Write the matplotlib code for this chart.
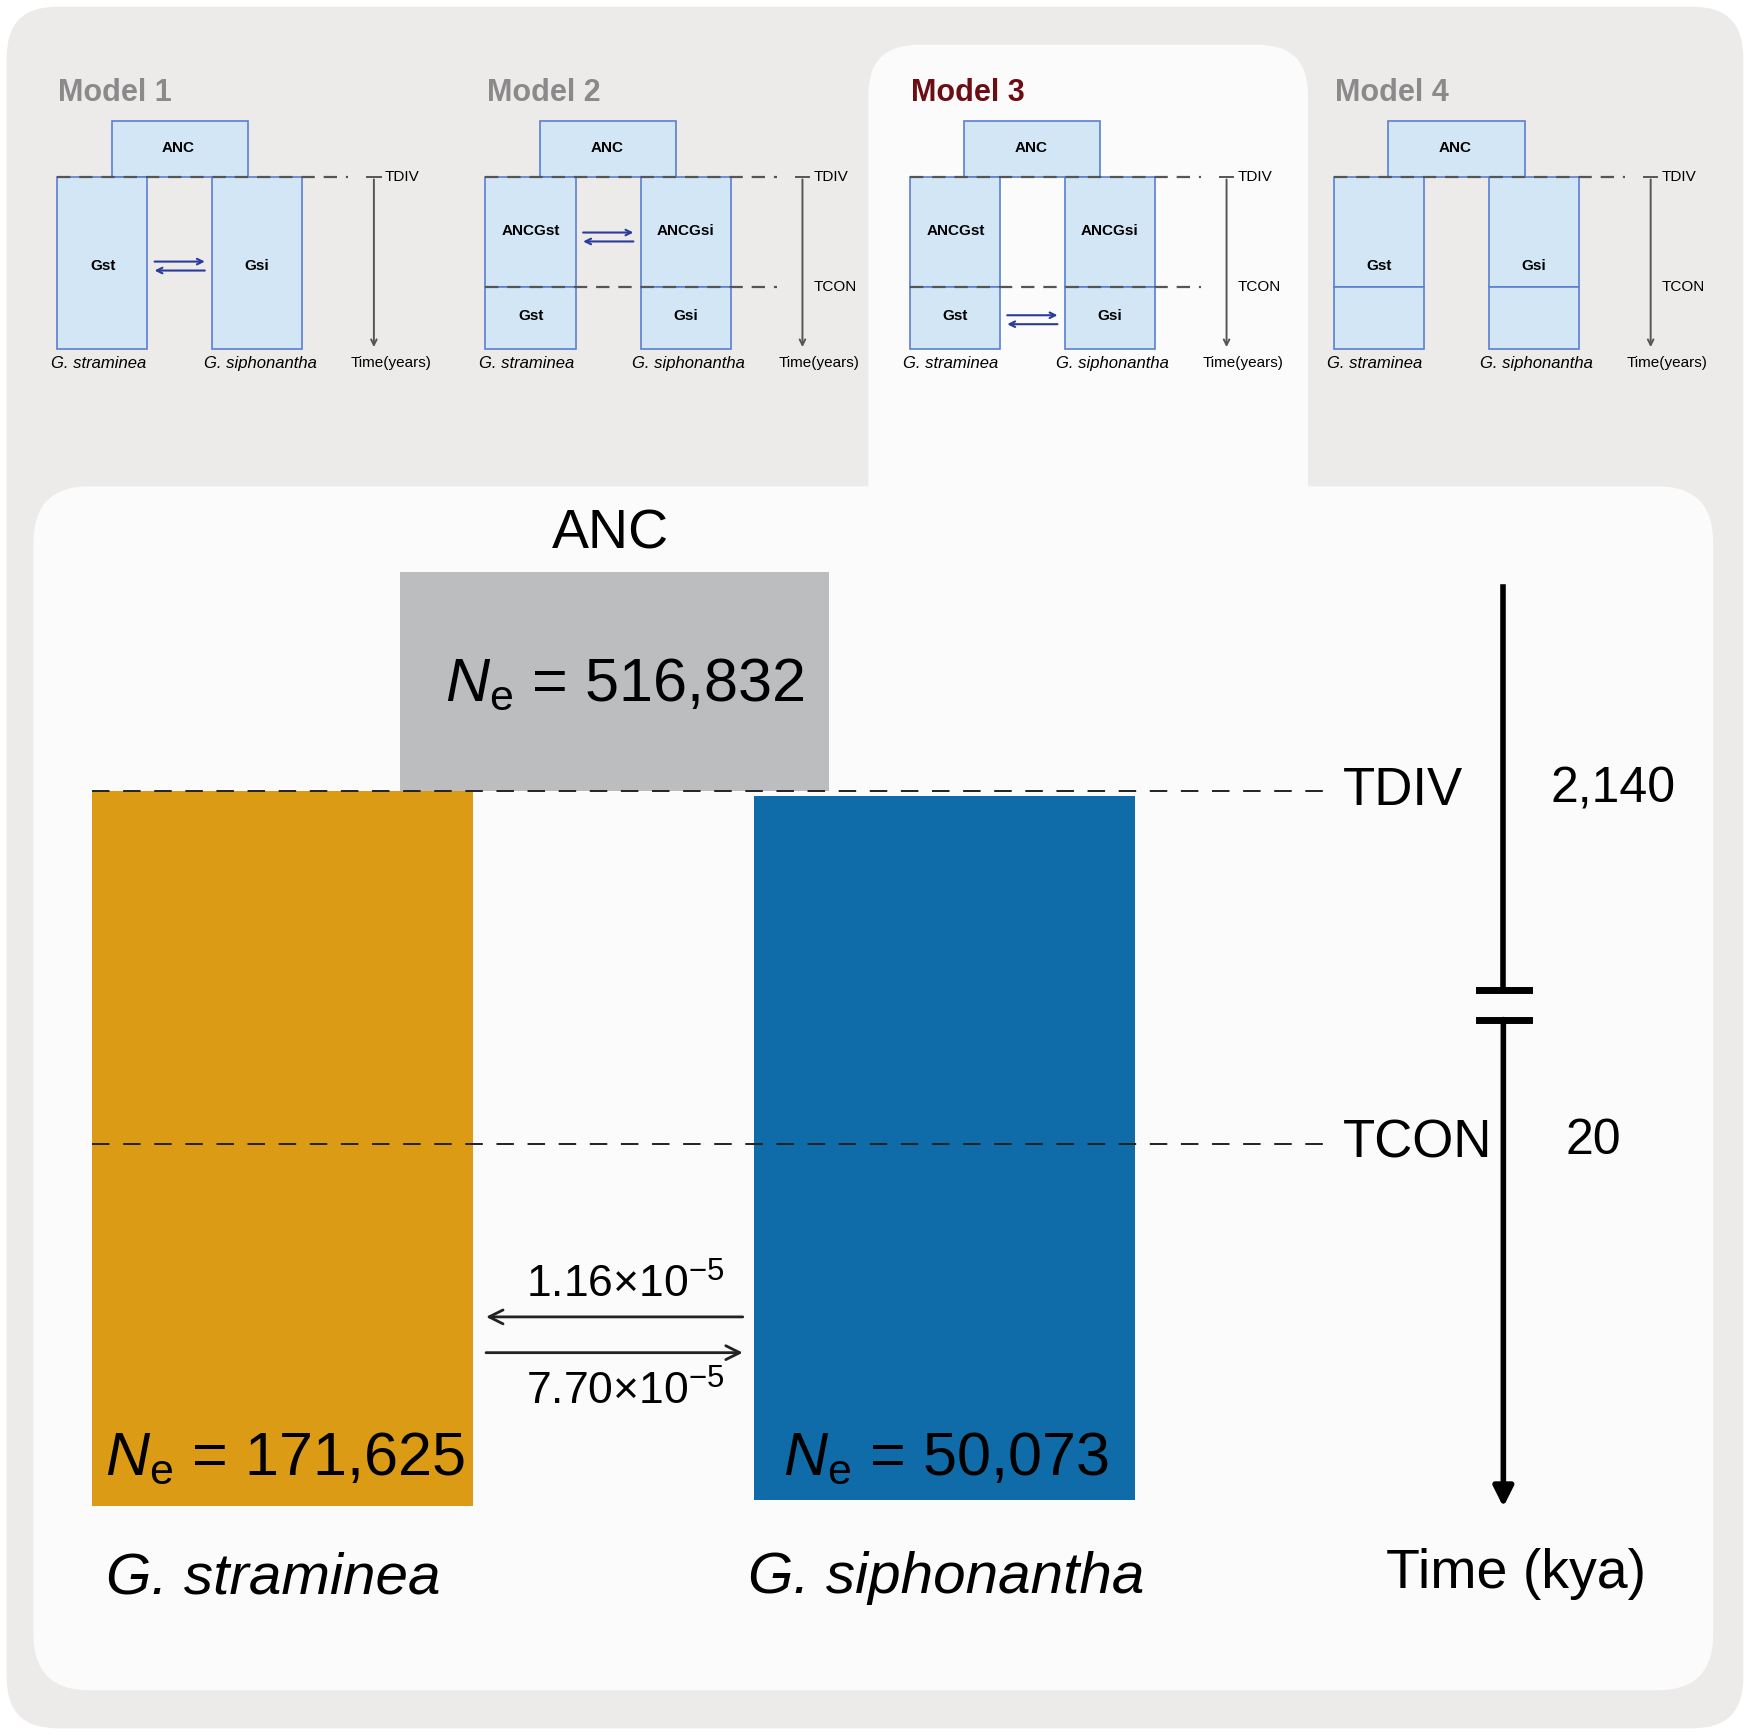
import matplotlib.pyplot as plt
from matplotlib.patches import FancyBboxPatch, Rectangle

plt.rcParams['font.family'] = ['Liberation Sans']
plt.rcParams['mathtext.fontset'] = 'custom'
plt.rcParams['mathtext.rm'] = 'Liberation Sans'
plt.rcParams['mathtext.it'] = 'Liberation Sans:italic'

# Data
model_names = ['Model 1', 'Model 2', 'Model 3', 'Model 4']
model_colors = ['#8a8a8a', '#8a8a8a', '#6b0d12', '#8a8a8a']
model_has_tcon = [False, True, True, True]      # split boxes at TCON
model_mig_phase = ['all', 'old', 'recent', None]  # where migration arrows go
species = ['G. straminea', 'G. siphonantha']
ne_anc, ne_gst, ne_gsi = '516,832', '171,625', '50,073'
t_div, t_con = '2,140', '20'
mig_rates = ['1.16×10$^{\\mathrm{-5}}$', '7.70×10$^{\\mathrm{-5}}$']

W, H = 1568, 1552
fig = plt.figure(figsize=(17.5, 17.35), dpi=100)
ax = fig.add_axes([0, 0, 1, 1])
ax.set_xlim(0, W)
ax.set_ylim(H, 0)
ax.axis('off')

# Backgrounds
ax.add_patch(FancyBboxPatch((6, 6), W - 12, H - 12, boxstyle='round,pad=0,rounding_size=45',
                            fc='#edeaea', ec='none'))
ax.add_patch(FancyBboxPatch((778, 40), 394, 460, boxstyle='round,pad=0,rounding_size=45',
                            fc='#fbfbfb', ec='none'))
ax.add_patch(FancyBboxPatch((30, 435), 1505, 1077, boxstyle='round,pad=0,rounding_size=50',
                            fc='#fbfbfb', ec='none'))

# Mini models
box_fc, box_ec = '#d3e6f5', '#5b7fd0'
for i, name in enumerate(model_names):
    dx = [0, 384, 764, 1144][i]
    ax.text(52 + dx, 83, name, fontsize=22, fontweight='bold', color=model_colors[i], va='center')
    ax.add_patch(Rectangle((100 + dx, 108), 122, 50, fc=box_fc, ec=box_ec, lw=1.2))
    ax.text(160 + dx, 132, 'ANC', fontsize=11, fontweight='bold', ha='center', va='center')
    for x0 in (51, 190):
        if model_has_tcon[i]:
            ax.add_patch(Rectangle((x0 + dx, 158), 81, 99, fc=box_fc, ec=box_ec, lw=1.2))
            ax.add_patch(Rectangle((x0 + dx, 257), 81, 55, fc=box_fc, ec=box_ec, lw=1.2))
        else:
            ax.add_patch(Rectangle((x0 + dx, 158), 81, 154, fc=box_fc, ec=box_ec, lw=1.2))
    ax.plot([51 + dx, 312 + dx], [158, 158], ls=(0, (6, 4)), color='#555555', lw=1.6)
    if model_has_tcon[i] and i != 3:
        ax.plot([51 + dx, 312 + dx], [257, 257], ls=(0, (6, 4)), color='#555555', lw=1.6)
    if model_has_tcon[i] and i != 3:
        labels = [('ANCGst', 92, 207), ('ANCGsi', 230, 207), ('Gst', 92, 283), ('Gsi', 230, 283)]
    else:
        labels = [('Gst', 92, 238), ('Gsi', 230, 238)]
    for txt, lx, ly in labels:
        ax.text(lx + dx, ly, txt, fontsize=11, fontweight='bold', ha='center', va='center')
    phase = model_mig_phase[i]
    if phase is not None:
        ay = {'all': 238, 'old': 212, 'recent': 286}[phase]
        ax.annotate('', xy=(186 + dx, ay - 4), xytext=(136 + dx, ay - 4),
                    arrowprops=dict(arrowstyle='->', color='#2a3b9c', lw=1.5))
        ax.annotate('', xy=(136 + dx, ay + 4), xytext=(186 + dx, ay + 4),
                    arrowprops=dict(arrowstyle='->', color='#2a3b9c', lw=1.5))
    ax.annotate('', xy=(335 + dx, 313), xytext=(335 + dx, 158),
                arrowprops=dict(arrowstyle='->', color='#555555', lw=1.4))
    ax.plot([329 + dx, 341 + dx], [158, 158], color='#555555', lw=1.4)
    ax.text(345 + dx, 158, 'TDIV', fontsize=11, va='center')
    if model_has_tcon[i]:
        ax.text(345 + dx, 257, 'TCON', fontsize=11, va='center')
    ax.text(350 + dx, 325, 'Time(years)', fontsize=11, ha='center', va='center')
    ax.text(88 + dx, 325, species[0], fontsize=12, style='italic', ha='center', va='center')
    ax.text(233 + dx, 325, species[1], fontsize=12, style='italic', ha='center', va='center')

# Main model
ax.add_patch(Rectangle((358, 512), 385, 196, fc='#bcbdbf', ec='none'))
ax.add_patch(Rectangle((82, 708), 342, 639, fc='#dc9b15', ec='none'))
ax.add_patch(Rectangle((676, 712), 341, 630, fc='#0f6ca8', ec='none'))
ax.text(547, 478, 'ANC', fontsize=40, ha='center', va='center')
ax.text(560, 613, '$\\mathit{N}_{\\mathrm{e}}$ = ' + ne_anc, fontsize=44, ha='center', va='center')
ax.text(255, 1305, '$\\mathit{N}_{\\mathrm{e}}$ = ' + ne_gst, fontsize=44, ha='center', va='center')
ax.text(847, 1305, '$\\mathit{N}_{\\mathrm{e}}$ = ' + ne_gsi, fontsize=44, ha='center', va='center')
for y in (708, 1023):
    ax.plot([82, 1192], [y, y], ls=(0, (9, 7)), color='#222222', lw=1.4)
ax.text(1203, 708, 'TDIV', fontsize=38, va='center')
ax.text(1203, 1023, 'TCON', fontsize=38, va='center')
ax.text(1445, 706, t_div, fontsize=36, ha='center', va='center')
ax.text(1428, 1021, t_con, fontsize=36, ha='center', va='center')

# Time axis with break
ax.plot([1347, 1347], [525, 886], color='black', lw=4)
ax.annotate('', xy=(1347, 1348), xytext=(1347, 912),
            arrowprops=dict(arrowstyle='-|>', color='black', lw=4, mutation_scale=30,
                            shrinkA=0, shrinkB=0))
ax.plot([1325, 1370], [886, 886], color='black', lw=5)
ax.plot([1325, 1370], [912, 912], color='black', lw=5)
ax.text(1358, 1408, 'Time (kya)', fontsize=40, ha='center', va='center')

ax.text(245, 1412, species[0], fontsize=42, style='italic', ha='center', va='center')
ax.text(848, 1412, species[1], fontsize=42, style='italic', ha='center', va='center')

# Migration
ax.annotate('', xy=(433, 1178), xytext=(668, 1178),
            arrowprops=dict(arrowstyle='->', color='#222222', lw=2, mutation_scale=25))
ax.annotate('', xy=(668, 1210), xytext=(433, 1210),
            arrowprops=dict(arrowstyle='->', color='#222222', lw=2, mutation_scale=25))
ax.text(560, 1150, mig_rates[0], fontsize=32, ha='center', va='center')
ax.text(560, 1245, mig_rates[1], fontsize=32, ha='center', va='center')

fig.savefig('out.png', dpi=100, facecolor='white')
